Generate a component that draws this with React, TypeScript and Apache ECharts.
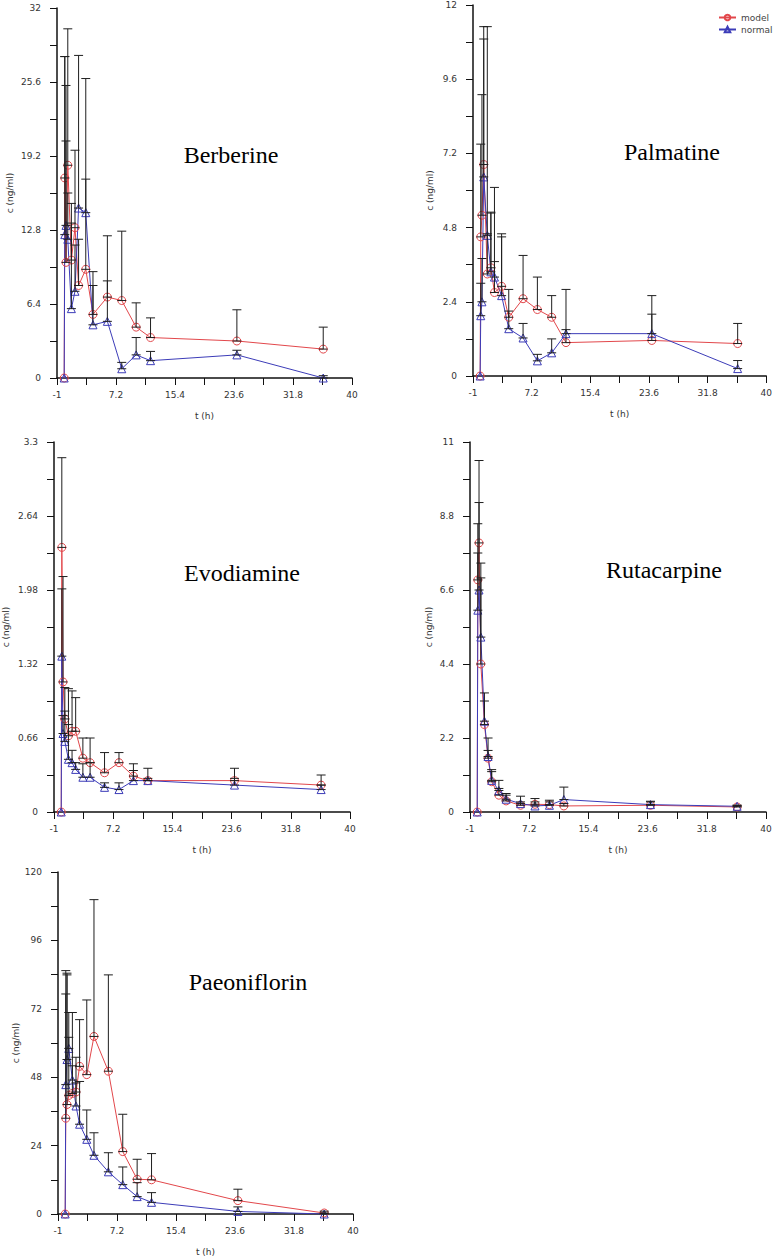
import React, { useEffect, useRef } from "react";
import * as echarts from "echarts";

// ---------- data ----------
const TIMES = [0, 0.083, 0.25, 0.5, 1, 1.5, 2, 3, 4, 6, 8, 10, 12, 24, 36];
const SERIES_NAMES = ["model", "normal"];
const COMPOUNDS = ["Berberine", "Palmatine", "Evodiamine", "Rutacarpine", "Paeoniflorin"];
const Y_MAX = [32, 12, 3.3, 11, 120];
const Y_LABEL_STEP = [6.4, 2.4, 0.66, 2.2, 24];
const X_MIN = -1;
const X_MAX = 40;
const X_LABEL_STEP = 8.2;
const X_NAME = "t (h)";
const Y_NAME = "c (ng/ml)";

const BERBERINE_MODEL = [0, 17.3, 10.0, 18.4, 10.2, 13.0, 8.0, 9.4, 5.5, 7.0, 6.7, 4.4, 3.5, 3.2, 2.5];
const BERBERINE_MODEL_SD = [0, 10.5, 15.3, 11.8, 4.9, 6.7, 4.0, 7.8, 2.5, 5.3, 6.0, 2.1, 1.7, 2.7, 1.9];
const BERBERINE_NORMAL = [0, 12.4, 13.2, 12.0, 6.0, 7.5, 14.7, 14.3, 4.6, 4.9, 0.8, 2.0, 1.5, 2.0, 0];
const BERBERINE_NORMAL_SD = [0, 15.4, 7.3, 4.0, 7.4, 4.0, 13.2, 11.6, 4.6, 3.5, 0.55, 1.5, 0.8, 0.4, 0.2];

const PALMATINE_MODEL = [0, 4.5, 5.2, 6.84, 3.3, 3.5, 2.7, 2.9, 1.9, 2.5, 2.15, 1.9, 1.08, 1.15, 1.05];
const PALMATINE_MODEL_SD = [0, 3.0, 3.9, 4.46, 1.3, 1.8, 3.4, 1.7, 0.9, 1.4, 1.05, 0.7, 1.72, 1.45, 0.65];
const PALMATINE_NORMAL = [0, 1.95, 2.4, 6.44, 4.55, 3.37, 3.2, 2.6, 1.53, 1.23, 0.49, 0.75, 1.37, 1.37, 0.24];
const PALMATINE_NORMAL_SD = [0, 1.05, 1.4, 4.46, 6.75, 1.9, 0.5, 1.9, 0.57, 0.47, 0.21, 0.45, 0.13, 0.63, 0.26];

const EVODIAMINE_MODEL = [0, 2.36, 1.16, 0.83, 0.68, 0.72, 0.72, 0.48, 0.44, 0.35, 0.44, 0.32, 0.28, 0.28, 0.24];
const EVODIAMINE_MODEL_SD = [0, 0.8, 0.94, 0.28, 0.42, 0.36, 0.3, 0.18, 0.22, 0.18, 0.09, 0.11, 0.11, 0.11, 0.09];
const EVODIAMINE_NORMAL = [0, 1.39, 0.7, 0.63, 0.47, 0.44, 0.38, 0.31, 0.31, 0.22, 0.2, 0.28, 0.28, 0.24, 0.2];
const EVODIAMINE_NORMAL_SD = [0, 0.6, 0.16, 0.27, 0.31, 0.11, 0.06, 0.12, 0.13, 0.04, 0.06, 0.09, 0.02, 0.06, 0.04];

const RUTACARPINE_MODEL = [0, 6.9, 8.0, 4.4, 2.6, 1.6, 0.9, 0.5, 0.33, 0.2, 0.23, 0.22, 0.18, 0.2, 0.15];
const RUTACARPINE_MODEL_SD = [0, 1.67, 2.45, 2.56, 0.7, 0.23, 0.3, 0.2, 0.17, 0.1, 0.07, 0.08, 0.07, 0.1, 0.05];
const RUTACARPINE_NORMAL = [0, 6.0, 6.6, 5.2, 2.7, 1.65, 0.94, 0.64, 0.38, 0.25, 0.18, 0.2, 0.37, 0.22, 0.17];
const RUTACARPINE_NORMAL_SD = [0, 1.7, 2.6, 2.2, 0.84, 0.55, 0.32, 0.3, 0.17, 0.22, 0.22, 0.15, 0.37, 0.1, 0.03];

const PAEONIFLORIN_MODEL = [0, 33.6, 38.4, 41.6, 42.3, 42.8, 51.8, 48.9, 62.3, 50.1, 21.9, 12.2, 12.0, 4.7, 0.35];
const PAEONIFLORIN_MODEL_SD = [0, 43.6, 46.1, 20.4, 28.4, 12.2, 16.4, 26.2, 48.0, 33.8, 13.1, 7.0, 9.2, 4.0, 0.65];
const PAEONIFLORIN_NORMAL = [0, 45.4, 54.2, 58.1, 47.0, 37.9, 31.5, 26.2, 20.6, 14.8, 10.3, 6.1, 4.1, 0.9, 0];
const PAEONIFLORIN_NORMAL_SD = [0, 40.0, 29.7, 12.6, 5.0, 8.1, 15.0, 10.3, 7.9, 6.7, 6.2, 4.9, 3.4, 1.6, 0.2];

const MODEL_MEANS = [BERBERINE_MODEL, PALMATINE_MODEL, EVODIAMINE_MODEL, RUTACARPINE_MODEL, PAEONIFLORIN_MODEL];
const MODEL_SDS = [BERBERINE_MODEL_SD, PALMATINE_MODEL_SD, EVODIAMINE_MODEL_SD, RUTACARPINE_MODEL_SD, PAEONIFLORIN_MODEL_SD];
const NORMAL_MEANS = [BERBERINE_NORMAL, PALMATINE_NORMAL, EVODIAMINE_NORMAL, RUTACARPINE_NORMAL, PAEONIFLORIN_NORMAL];
const NORMAL_SDS = [BERBERINE_NORMAL_SD, PALMATINE_NORMAL_SD, EVODIAMINE_NORMAL_SD, RUTACARPINE_NORMAL_SD, PAEONIFLORIN_NORMAL_SD];

// ---------- layout / style ----------
const LAYOUT = [
  { left: 57, top: 8, width: 295, height: 370, tx: 231, ty: 155, yGap: 43 },
  { left: 473, top: 5, width: 295, height: 371, tx: 672, ty: 152, yGap: 39 },
  { left: 54, top: 442, width: 296, height: 370, tx: 242, ty: 573, yGap: 44 },
  { left: 470, top: 442, width: 296, height: 370, tx: 664, ty: 570, yGap: 37 },
  { left: 58, top: 872, width: 295, height: 343, tx: 248, ty: 982, yGap: 36 },
];
const RED = "#e2474b";
const BLUE = "#3c3cb8";
const BAR = "#1e1e1e";
const AXIS = "#111";
const LABEL_FONT = "DejaVu Sans";

function fmt(v: number) {
  return String(+v.toFixed(3));
}

function errorRender(params: any, api: any) {
  const x = api.value(0);
  const m = api.value(1);
  const s = api.value(2);
  if (!s) return null;
  const p0 = api.coord([x, m]);
  const p1 = api.coord([x, m + s]);
  const hw = 4.5;
  const style = { stroke: BAR, lineWidth: 1 };
  return {
    type: "group",
    children: [
      { type: "line", shape: { x1: p0[0], y1: p0[1], x2: p1[0], y2: p1[1] }, style },
      { type: "line", shape: { x1: p1[0] - hw, y1: p1[1], x2: p1[0] + hw, y2: p1[1] }, style },
      { type: "line", shape: { x1: p0[0] - hw, y1: p0[1], x2: p0[0] + hw, y2: p0[1] }, style },
    ],
  };
}

export default function App() {
  const ref = useRef<HTMLDivElement>(null);
  useEffect(() => {
    if (!ref.current) return;
    const chart = echarts.init(ref.current, null, { renderer: "svg" });
    const grids: any[] = [];
    const xAxes: any[] = [];
    const yAxes: any[] = [];
    const series: any[] = [];
    const graphics: any[] = [];
    const xHalf = X_LABEL_STEP / 2;

    COMPOUNDS.forEach((name, i) => {
      const L = LAYOUT[i];
      grids.push({ left: L.left, top: L.top, width: L.width, height: L.height, containLabel: false });
      const yHalf = Y_LABEL_STEP[i] / 2;
      xAxes.push({
        type: "value",
        gridIndex: i,
        min: X_MIN,
        max: X_MAX,
        interval: xHalf,
        name: X_NAME,
        nameLocation: "middle",
        nameGap: 33,
        nameTextStyle: { fontSize: 9, color: "#333", fontFamily: LABEL_FONT },
        axisLine: { onZero: false, lineStyle: { color: AXIS, width: 1.5 } },
        axisTick: { length: 7, lineStyle: { color: AXIS, width: 1 } },
        axisLabel: {
          margin: 12,
          fontSize: 9,
          color: "#333",
          fontFamily: LABEL_FONT,
          formatter: (v: number) => (Math.round((v - X_MIN) / xHalf) % 2 === 0 ? fmt(v) : ""),
        },
        splitLine: { show: false },
      });
      yAxes.push({
        type: "value",
        gridIndex: i,
        min: 0,
        max: Y_MAX[i],
        interval: yHalf,
        name: Y_NAME,
        nameLocation: "middle",
        nameRotate: 90,
        nameGap: L.yGap,
        nameTextStyle: { fontSize: 9, color: "#333", fontFamily: LABEL_FONT },
        axisLine: { show: true, onZero: false, lineStyle: { color: AXIS, width: 1.5 } },
        axisTick: { show: true, length: 7, lineStyle: { color: AXIS, width: 1 } },
        axisLabel: {
          margin: 16,
          fontSize: 9,
          color: "#333",
          fontFamily: LABEL_FONT,
          formatter: (v: number) => (Math.round(v / yHalf) % 2 === 0 ? fmt(v) : ""),
        },
        splitLine: { show: false },
      });

      const groups = [
        { nm: SERIES_NAMES[0], mean: MODEL_MEANS[i], sd: MODEL_SDS[i], color: RED, symbol: "circle", size: 8 },
        { nm: SERIES_NAMES[1], mean: NORMAL_MEANS[i], sd: NORMAL_SDS[i], color: BLUE, symbol: "triangle", size: 8 },
      ];
      groups.forEach((g) => {
        series.push({
          type: "line",
          name: g.nm,
          xAxisIndex: i,
          yAxisIndex: i,
          data: TIMES.map((t, j) => [t, g.mean[j]]),
          symbol: g.symbol,
          symbolSize: g.size,
          showAllSymbol: true,
          lineStyle: { color: g.color, width: 1 },
          itemStyle: { color: "rgba(255,255,255,0)", borderColor: g.color, borderWidth: 1 },
          z: 2,
        });
      });
      groups.forEach((g) => {
        series.push({
          type: "custom",
          name: g.nm + " SD",
          xAxisIndex: i,
          yAxisIndex: i,
          renderItem: errorRender,
          data: TIMES.map((t, j) => [t, g.mean[j], g.sd[j]]),
          encode: { x: 0, y: 1 },
          silent: true,
          z: 3,
        });
      });
      graphics.push({
        type: "text",
        x: L.tx,
        y: L.ty,
        style: {
          text: name,
          fontSize: 24,
          fontFamily: "Liberation Serif",
          fill: "#000",
          align: "center",
          verticalAlign: "middle",
        },
      });
    });

    chart.setOption({
      animation: false,
      backgroundColor: "#fff",
      grid: grids,
      xAxis: xAxes,
      yAxis: yAxes,
      series,
      graphic: graphics,
      legend: {
        data: SERIES_NAMES,
        orient: "vertical",
        left: 713,
        top: 8,
        itemWidth: 17,
        itemHeight: 7,
        itemGap: 3,
        textStyle: { fontSize: 9, color: "#444", fontFamily: LABEL_FONT },
      },
    });
    return () => chart.dispose();
  }, []);
  return (
    <div
      ref={ref}
      style={{ position: "absolute", left: 0, top: 0, width: 775, height: 1257, background: "#fff" }}
    />
  );
}
